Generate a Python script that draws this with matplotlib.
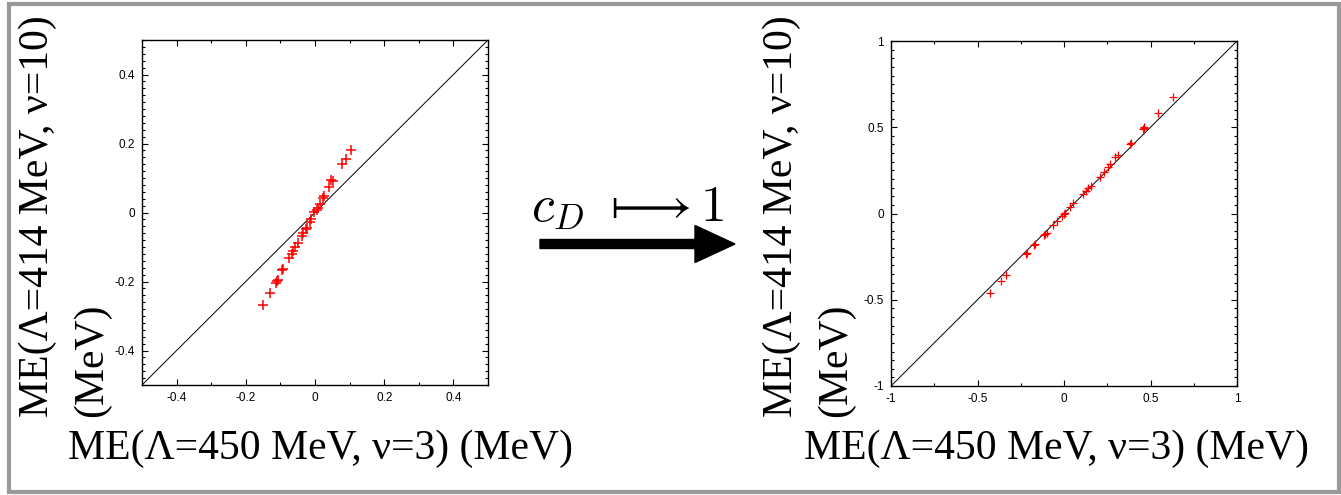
import numpy as np
import matplotlib
matplotlib.use("Agg")
import matplotlib.pyplot as plt
from matplotlib.patches import FancyArrow, Rectangle
from matplotlib.ticker import MultipleLocator, FormatStrFormatter

plt.rcParams["axes.unicode_minus"] = False
plt.rcParams["mathtext.fontset"] = "cm"

W, H = 1341, 495

# matrix elements, nu=3 (x) vs nu=10 (y), before c_D refit
ME_LEFT_X = [0.103, 0.089, 0.079, 0.051, 0.047, 0.041, 0.027, 0.024, 0.014,
             0.005, 0.009, -0.003, -0.011, -0.014, -0.027, -0.024, -0.034,
             -0.038, -0.048, -0.057, -0.063, -0.067, -0.075, -0.094, -0.092,
             -0.111, -0.114, -0.108, -0.129, -0.150]
ME_LEFT_Y = [0.181, 0.154, 0.140, 0.091, 0.093, 0.073, 0.049, 0.041, 0.025,
             0.007, 0.013, 0.001, -0.020, -0.027, -0.048, -0.044, -0.059,
             -0.068, -0.089, -0.101, -0.111, -0.120, -0.133, -0.167, -0.164,
             -0.199, -0.203, -0.197, -0.234, -0.268]

# same matrix elements after mapping c_D -> 1
ME_RIGHT_X = [0.630, 0.543, 0.465, 0.455, 0.460, 0.388, 0.383, 0.310, 0.295,
              0.267, 0.252, 0.233, 0.209, 0.155, 0.140, 0.126, 0.107, 0.054,
              0.035, 0.000, -0.010, 0.003, -0.039, -0.062, -0.101, -0.116,
              -0.109, -0.171, -0.165, -0.219, -0.213, -0.333, -0.362, -0.426]
ME_RIGHT_Y = [0.674, 0.581, 0.494, 0.488, 0.500, 0.411, 0.404, 0.337, 0.326,
              0.287, 0.267, 0.242, 0.213, 0.159, 0.145, 0.130, 0.112, 0.058,
              0.039, 0.000, -0.016, 0.003, -0.043, -0.068, -0.112, -0.126,
              -0.118, -0.184, -0.179, -0.233, -0.228, -0.359, -0.391, -0.459]

LEFT_LIM = [-0.5, 0.5]
RIGHT_LIM = [-1.0, 1.0]

YLABEL = "ME(\u039b=414 MeV, \u03bd=10)"
XLABEL = "ME(\u039b=450 MeV, \u03bd=3) (MeV)"

SERIF = ["Liberation Serif", "DejaVu Serif"]
SANS = ["Liberation Sans", "DejaVu Sans"]


def px(x, y):
    # pixel position (from top-left) -> figure fraction
    return x / W, 1 - y / H


def style_axes(ax, lim, major, minor_x, minor_y):
    ax.set_xlim(lim)
    ax.set_ylim(lim)
    ax.xaxis.set_major_locator(MultipleLocator(major))
    ax.yaxis.set_major_locator(MultipleLocator(major))
    ax.xaxis.set_minor_locator(MultipleLocator(minor_x))
    ax.yaxis.set_minor_locator(MultipleLocator(minor_y))
    fmt = FormatStrFormatter("%g")
    ax.xaxis.set_major_formatter(fmt)
    ax.yaxis.set_major_formatter(fmt)
    ax.tick_params(which="both", direction="in", top=True, right=True,
                   width=0.8, labelsize=8.5, pad=5)
    ax.tick_params(which="major", length=4.5)
    ax.tick_params(which="minor", length=2.2)
    for lab in ax.get_xticklabels() + ax.get_yticklabels():
        lab.set_family(SANS)
    for s in ax.spines.values():
        s.set_linewidth(1.0)


fig = plt.figure(figsize=(W / 100, H / 100), dpi=100)

axL = fig.add_axes([142 / W, 1 - 385 / H, 346 / W, 345 / H])
axL.plot(LEFT_LIM, LEFT_LIM, color="black", lw=0.7)
axL.plot(ME_LEFT_X, ME_LEFT_Y, "+", color="#ff0000", ms=7.0, mew=1.1)
style_axes(axL, LEFT_LIM, 0.2, 0.1, 0.02)

axR = fig.add_axes([891 / W, 1 - 386 / H, 346 / W, 345 / H])
axR.plot(RIGHT_LIM, RIGHT_LIM, color="black", lw=0.7)
axR.plot(ME_RIGHT_X, ME_RIGHT_Y, "+", color="#ff0000", ms=6.0, mew=0.9)
style_axes(axR, RIGHT_LIM, 0.5, 0.25, 0.05)

# axis titles, two-line y titles drawn line by line
for x1, x2, xc in [(38, 92, 320), (782, 836, 1057)]:
    fig.text(*px(x1, 417), YLABEL, rotation=90, ha="center", va="bottom",
             fontsize=30, family=SERIF)
    fig.text(*px(x2, 417), "(MeV)", rotation=90, ha="center", va="bottom",
             fontsize=30, family=SERIF)
    fig.text(*px(xc, 459), XLABEL, ha="center", va="baseline",
             fontsize=30, family=SERIF)

# c_D mapping arrow between the panels
x0, y0 = px(540, 244)
fig.add_artist(FancyArrow(x0, y0, 195 / W, 0, width=9 / H,
                          head_width=37 / H, head_length=40 / W,
                          length_includes_head=True, color="black",
                          transform=fig.transFigure))
fig.text(*px(531, 221), r"$c_D\ \longmapsto 1$", ha="left", va="baseline",
         fontsize=37)

fig.add_artist(Rectangle((9 / W, 3 / H), 1330 / W, 488 / H, fill=False,
                         edgecolor="#999999", lw=3.0,
                         transform=fig.transFigure))

fig.savefig("out.png", dpi=100)
